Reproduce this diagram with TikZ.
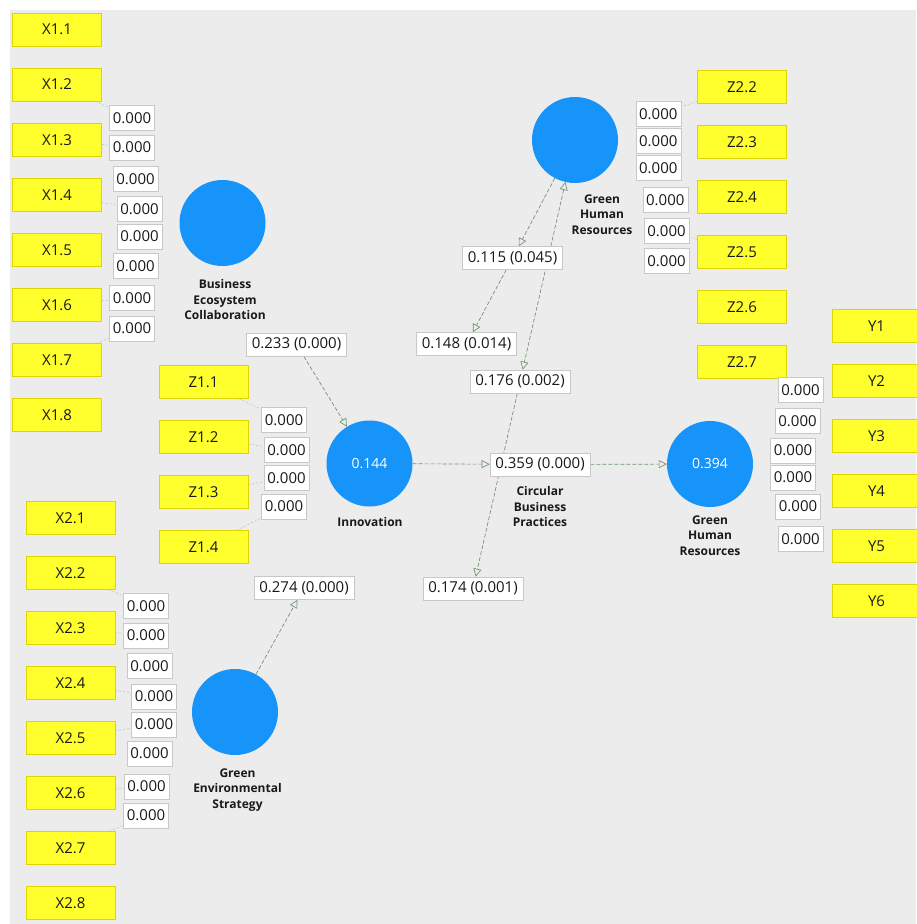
\documentclass[tikz,border=0pt]{standalone}
\usepackage{fontspec}
\setmainfont{Open Sans}
\usetikzlibrary{arrows.meta,calc}
\pgfdeclarelayer{bg}
\pgfdeclarelayer{lines}
\pgfsetlayers{bg,lines,main}
\definecolor{bgray}{RGB}{236,236,236}
\definecolor{cblue}{RGB}{22,148,250}
\definecolor{ind}{RGB}{255,255,46}
\definecolor{indb}{RGB}{222,212,0}
\definecolor{boxb}{RGB}{200,200,200}
\definecolor{arr}{RGB}{110,145,110}
\definecolor{txt}{RGB}{25,25,25}
\tikzset{otip/.tip={Triangle[open,length=8pt,width=8pt]}}
\begin{document}
\begin{tikzpicture}[x=1pt,y=-1pt,
 indbox/.style={draw=indb, fill=ind, line width=0.5pt, minimum width=89pt, minimum height=33pt, inner sep=0pt, font=\fontsize{15}{17}\selectfont, text=txt},
 ldbox/.style={draw=boxb, fill=white, line width=0.6pt, minimum width=45pt, minimum height=25pt, inner sep=0pt, font=\fontsize{15}{17}\selectfont, text=txt},
 pcbox/.style={draw=boxb, fill=white, line width=0.6pt, minimum width=100pt, minimum height=23pt, inner sep=0pt, font=\fontsize{15}{17}\selectfont, text=txt},
 lv/.style={circle, fill=cblue, minimum size=86pt, inner sep=0pt, text=white, font=\fontsize{14}{16}\selectfont},
 lvlab/.style={anchor=north, align=center, inner sep=0pt, font=\bfseries\fontsize{12}{15.5}\selectfont, text=txt},
 pth/.style={draw=arr, line width=0.65pt, dash pattern=on 4pt off 2pt, -otip},
 stub/.style={draw=arr!45!bgray, line width=0.5pt, dash pattern=on 2pt off 2pt},
]
\useasboundingbox (0,0) rectangle (916,924);
\begin{pgfonlayer}{bg}
\fill[white] (0,0) rectangle (916,924);
\fill[bgray] (10,10) rectangle (916,924);
\end{pgfonlayer}

% indicators
\foreach \i in {1,...,8} \node[indbox] (xa\i) at (57,{29.5+55.1*(\i-1)}) {X1.\i};
\foreach \i in {1,...,4} \node[indbox] (za\i) at (203.5,{382+55*(\i-1)}) {Z1.\i};
\foreach \i in {1,...,8} \node[indbox] (xb\i) at (70.5,{518+55*(\i-1)}) {X2.\i};
\foreach \i in {2,...,7} \node[indbox] (zb\i) at (742,{87+55*(\i-2)}) {Z2.\i};
\foreach \i in {1,...,6} \node[indbox] (y\i) at (876.5,{326+55*(\i-1)}) {Y\i};

% latent variables
\node[lv] (bec) at (222.5,223) {};
\node[lv] (inn) at (369.5,463.5) {0.144};
\node[lv] (ges) at (235,712) {};
\node[lv] (ghrt) at (575,140) {};
\node[lv] (ghr) at (710,464) {0.394};

\node[lvlab] (becl) at (225,279.5) {Business\\Ecosystem\\Collaboration};
\node[lvlab] (innl) at (370,517.5) {Innovation};
\node[lvlab] (gesl) at (237.5,768.5) {Green\\Environmental\\Strategy};
\node[lvlab] (ghrtl) at (602,194.5) {Green\\Human\\Resources};
\node[lvlab] (cbpl) at (540,486.5) {Circular\\Business\\Practices};
\node[lvlab] (ghrl) at (710,515.5) {Green\\Human\\Resources};

% loadings
\foreach \n/\x/\y in {1/132/117.7,2/132/147.5,3/135.5/179,4/139.5/209,5/139.5/236.5,6/135.5/266,7/132/298,8/132/328.5}
  \node[ldbox] (la\n) at (\x,\y) {0.000};
\foreach \n/\x/\y in {1/284/420,2/286.5/450,3/286.5/478,4/284/506.5}
  \node[ldbox] (lz\n) at (\x,\y) {0.000};
\foreach \n/\x/\y in {1/146/606,2/146/635.5,3/149.5/666,4/154/696.5,5/154/724.5,6/149.5/753.5,7/146.5/786.5,8/146/815.5}
  \node[ldbox] (lb\n) at (\x,\y) {0.000};
\foreach \n/\x/\y in {1/658.3/114,2/658.3/141,3/658.3/168,4/665.3/200,5/666.5/230.7,6/666.5/261}
  \node[ldbox] (lw\n) at (\x,\y) {0.000};
\foreach \n/\x/\y in {1/800.5/390,2/797.5/420.7,3/793/450.5,4/793/477.5,5/798/506.5,6/800.5/539}
  \node[ldbox] (ly\n) at (\x,\y) {0.000};

% path coefficients
\node[pcbox] (b233) at (296.5,344.5) {0.233 (0.000)};
\node[pcbox] (b115) at (512.5,258) {0.115 (0.045)};
\node[pcbox] (b148) at (466.5,344) {0.148 (0.014)};
\node[pcbox] (b176) at (520,381.5) {0.176 (0.002)};
\node[pcbox] (b359) at (540,464.5) {0.359 (0.000)};
\node[pcbox] (b174) at (473,588.5) {0.174 (0.001)};
\node[pcbox] (b274) at (304,588) {0.274 (0.000)};

\begin{pgfonlayer}{lines}
% faint indicator stubs
\draw[stub] (xa2) -- (la1);
\draw[stub] (xa3) -- (la2);
\draw[stub] (xa4) -- (la4);
\draw[stub] (xa6) -- (la7);
\draw[stub] (xa7) -- (la8);
\foreach \i in {1,...,4} \draw[stub] (za\i) -- (lz\i);
\draw[stub] (xb2) -- (lb1);
\draw[stub] (xb3) -- (lb2);
\draw[stub] (xb4) -- (lb4);
\draw[stub] (xb5) -- (lb5);
\draw[stub] (xb6) -- (lb7);
\draw[stub] (xb7) -- (lb8);
\draw[stub] (zb2) -- (lw1);
\draw[stub] (zb5) -- (lw5);
% structural paths
\draw[pth] (ges) -- (b274);
\draw[pth] (b233) -- (inn);
\draw[pth] (inn) -- (b359);
\draw[pth] (b359) -- (ghr);
\draw[pth] (ghrt) -- (b115);
\draw[pth] (b115) -- (b148);
\draw[pth, otip-otip] (ghrt) -- (b176);
\draw[pth] (b176) -- (b174);
\end{pgfonlayer}
\end{tikzpicture}
\end{document}
